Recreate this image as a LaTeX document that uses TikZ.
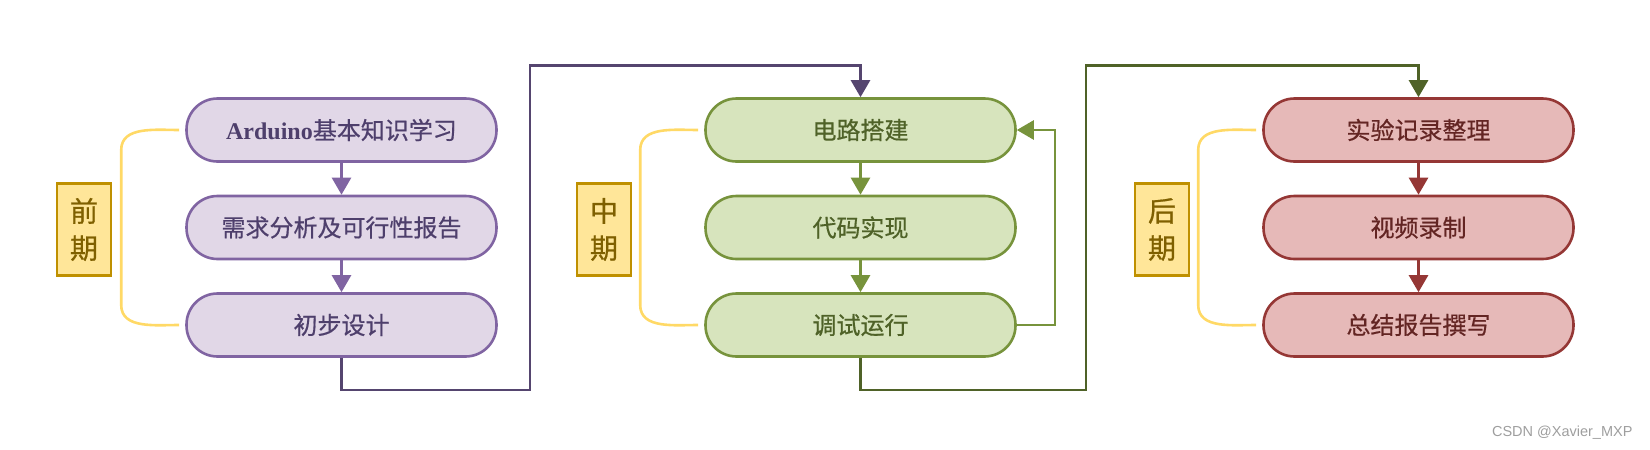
\documentclass[tikz,border=0pt]{standalone}
\usepackage{fontspec}
\setmainfont{Liberation Serif}
\newfontfamily\cjk{Noto Sans CJK SC}[FakeBold=0.6]
\newfontfamily\wmfont{Liberation Sans}
\usepackage{tikz}
\usetikzlibrary{arrows.meta}

\definecolor{purpfill}{HTML}{E1D7E7}
\definecolor{purpline}{HTML}{8064A2}
\definecolor{purptext}{HTML}{4E3F6C}
\definecolor{purplink}{HTML}{55456F}
\definecolor{grnfill}{HTML}{D7E4BD}
\definecolor{grnline}{HTML}{77933C}
\definecolor{grntext}{HTML}{4F6228}
\definecolor{grnlink}{HTML}{4F6228}
\definecolor{redfill}{HTML}{E6B9B8}
\definecolor{redline}{HTML}{953735}
\definecolor{redtext}{HTML}{632523}
\definecolor{tagfill}{HTML}{FFE699}
\definecolor{tagline}{HTML}{BF9000}
\definecolor{tagtext}{HTML}{7F6000}
\definecolor{bracecol}{HTML}{FFD966}

\begin{document}
\begin{tikzpicture}[x=1pt, y=-1pt,
  stage/.style={draw, rectangle, rounded corners=31pt, line width=2.6pt,
    minimum width=310pt, minimum height=63pt, inner sep=0pt,
    font=\cjk\fontsize{24}{27}\selectfont},
  tag/.style={draw=tagline, fill=tagfill, text=tagtext, line width=2.6pt,
    minimum width=54pt, minimum height=92pt, inner sep=0pt, align=center,
    font=\cjk\fontsize{28}{37}\selectfont},
  brace/.style={draw=bracecol, line width=2.6pt},
  tip/.style={-{Triangle[length=17pt,width=19pt]}, line width=2.6pt}]
\useasboundingbox (0,0) rectangle (1650,450);

% early stage
\node [stage, draw=purpline, fill=purpfill, text=purptext] (a1) at (341.5,130) {{\rmfamily\bfseries Arduino}基本知识学习};
\node [stage, draw=purpline, fill=purpfill, text=purptext] (a2) at (341.5,227.5) {需求分析及可行性报告};
\node [stage, draw=purpline, fill=purpfill, text=purptext] (a3) at (341.5,325) {初步设计};
\node [tag] (ta) at (84,229.5) {前\\期};
\draw [brace] ([xshift=-6pt]a1.west) to[out=180,in=90] ++(-58,20) -- ++(0,155) to[out=-90,in=180] ([xshift=-6pt]a3.west);
\draw [tip, purpline] (a1) -- (a2);
\draw [tip, purpline] (a2) -- (a3);

% middle stage
\node [stage, draw=grnline, fill=grnfill, text=grntext] (b1) at (860.5,130) {电路搭建};
\node [stage, draw=grnline, fill=grnfill, text=grntext] (b2) at (860.5,227.5) {代码实现};
\node [stage, draw=grnline, fill=grnfill, text=grntext] (b3) at (860.5,325) {调试运行};
\node [tag] (tb) at (604,229.5) {中\\期};
\draw [brace] ([xshift=-6pt]b1.west) to[out=180,in=90] ++(-58,20) -- ++(0,155) to[out=-90,in=180] ([xshift=-6pt]b3.west);
\draw [tip, grnline] (b1) -- (b2);
\draw [tip, grnline] (b2) -- (b3);
\draw [tip, grnline] (b3.east) -- ++(38,0) |- (b1.east);

% late stage
\node [stage, draw=redline, fill=redfill, text=redtext] (c1) at (1418.5,130) {实验记录整理};
\node [stage, draw=redline, fill=redfill, text=redtext] (c2) at (1418.5,227.5) {视频录制};
\node [stage, draw=redline, fill=redfill, text=redtext] (c3) at (1418.5,325) {总结报告撰写};
\node [tag] (tc) at (1162,229.5) {后\\期};
\draw [brace] ([xshift=-6pt]c1.west) to[out=180,in=90] ++(-58,20) -- ++(0,155) to[out=-90,in=180] ([xshift=-6pt]c3.west);
\draw [tip, redline] (c1) -- (c2);
\draw [tip, redline] (c2) -- (c3);

% links between stages
\coordinate (j1) at (530,390);
\coordinate (j2) at (530,65.5);
\coordinate (k1) at (1086,390);
\coordinate (k2) at (1086,65.5);
\draw [tip, purplink] (a3.south) |- (j1) -- (j2) -| (b1.north);
\draw [tip, grnlink] (b3.south) |- (k1) -- (k2) -| (c1.north);

\node [anchor=east, text=black!38, font=\wmfont\fontsize{14.5}{16}\selectfont] (wm) at (1636,433) {CSDN @Xavier\_MXP};
%\draw (0,0) rectangle (1650,450);
\end{tikzpicture}
\end{document}
